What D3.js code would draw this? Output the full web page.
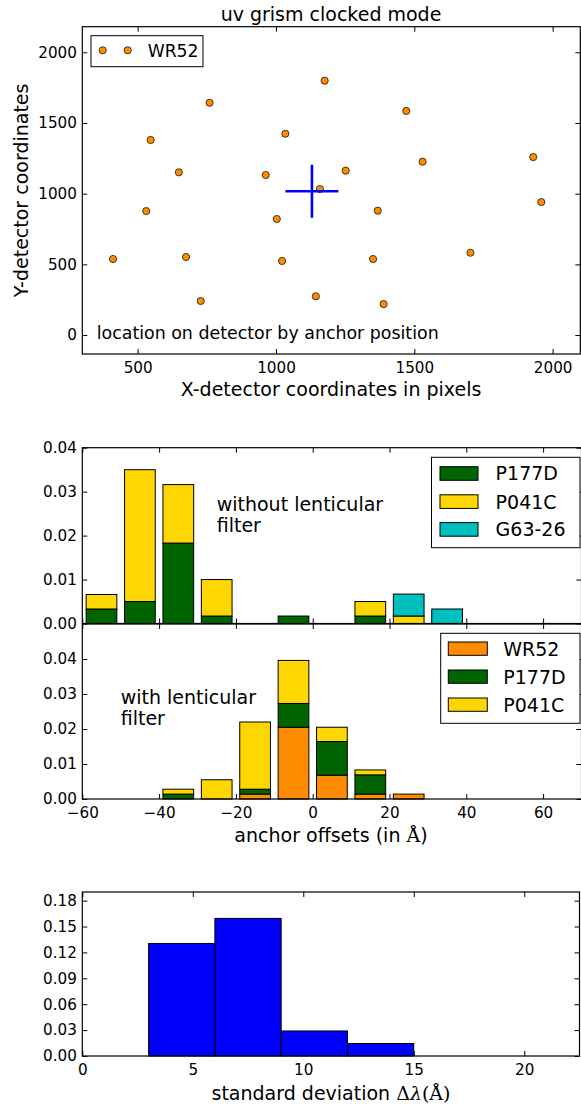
<!DOCTYPE html>
<html><head><meta charset="utf-8">
<script src="https://cdn.jsdelivr.net/npm/d3@7"></script>
<style>
body{margin:0;background:#fff}
text{font-family:"DejaVu Sans",sans-serif;fill:#000}
</style>
</head><body>
<svg id="c" width="581" height="1106"></svg>
<script>
// ---------------- data ----------------
const wr52X = [411, 531, 547, 649, 675, 728, 760, 963, 1003, 1022, 1034, 1144, 1159, 1176, 1252, 1351, 1368, 1389, 1471, 1530, 1703, 1930, 1959];
const wr52Y = [538, 877, 1380, 1151, 552, 241, 1643, 1132, 821, 524, 1424, 274, 1033, 1799, 1163, 538, 880, 219, 1585, 1226, 582, 1259, 941];
const anchorCenterX = [1130];
const anchorCenterY = [1017];

const offsetBinStarts = [-60, -50, -40, -30, -20, -10, 0, 10, 20, 30, 40, 50, 60];
const offsetBinWidth = 10;
// without lenticular filter (stacked densities)
const noLentP177D = [0.0033, 0.0050, 0.0183, 0.0017, 0, 0.0017, 0, 0.0017, 0, 0, 0, 0, 0];
const noLentP041C = [0.0033, 0.0300, 0.0133, 0.0083, 0, 0, 0, 0.0033, 0.0017, 0, 0, 0, 0];
const noLentG6326 = [0, 0, 0, 0, 0, 0, 0, 0, 0.0050, 0.0033, 0, 0, 0];
// with lenticular filter (stacked densities)
const lentWR52  = [0, 0, 0, 0, 0.0014, 0.0205, 0.0068, 0.0014, 0.0014, 0, 0, 0, 0];
const lentP177D = [0, 0, 0.0014, 0, 0.0014, 0.0068, 0.0096, 0.0055, 0, 0, 0, 0, 0];
const lentP041C = [0, 0, 0.0014, 0.0055, 0.0192, 0.0123, 0.0041, 0.0014, 0, 0, 0, 0, 0];

const sdBinStarts = [3, 6, 9, 12];
const sdBinWidth = 3;
const sdDensity = [0.1304, 0.1594, 0.0290, 0.0145];

const scatterXTicks = [500, 1000, 1500, 2000];
const scatterYTicks = [0, 500, 1000, 1500, 2000];
const offsetXTicks = [-60, -40, -20, 0, 20, 40, 60];
const offsetYTicksUpper = [0, 0.01, 0.02, 0.03, 0.04];
const offsetYTicksLower = [0, 0.01, 0.02, 0.03, 0.04];
const sdXTicks = [0, 5, 10, 15, 20];
const sdYTicks = [0, 0.03, 0.06, 0.09, 0.12, 0.15, 0.18];

// ---------------- style ----------------
const TFS = 15.2, LFS = 19, SFS = 17.2, TL = 5;
const C = {orange:"#ff8c00", green:"#006400", gold:"#ffd700", cyan:"#00bfbf", blue:"#0000ff"};
const svg = d3.select("#c");
const fmtMinus = s => s.replace("-", "\u2212");

function axes(x, y, o) {
  const g = svg.append("g");
  const [x0, x1] = x.range(), [y0, y1] = y.range();
  g.append("g").attr("transform", `translate(0,${y0})`)
    .call(d3.axisBottom(x).tickValues(o.xt).tickSize(-TL).tickPadding(7.8)
      .tickFormat(o.xlab ? (o.xf || (d => fmtMinus(String(d)))) : ""));
  g.append("g").attr("transform", `translate(0,${y1})`)
    .call(d3.axisTop(x).tickValues(o.xt).tickSize(-TL).tickFormat(""));
  g.append("g").attr("transform", `translate(${x0},0)`)
    .call(d3.axisLeft(y).tickValues(o.yt).tickSize(-TL).tickPadding(5.4).tickFormat(o.yf));
  g.append("g").attr("transform", `translate(${x1},0)`)
    .call(d3.axisRight(y).tickValues(o.yt).tickSize(-TL).tickFormat(""));
  g.selectAll(".domain").remove();
  g.selectAll(".tick line").attr("stroke", "#000").attr("stroke-width", 1);
  g.selectAll(".tick text").attr("font-size", TFS).attr("font-family", "DejaVu Sans").attr("fill", "#000");
  return g;
}
function spines(x, y) {
  const [x0, x1] = x.range(), [y0, y1] = y.range();
  svg.append("rect").attr("x", x0).attr("y", y1).attr("width", x1 - x0).attr("height", y0 - y1)
    .attr("fill", "none").attr("stroke", "#000").attr("stroke-width", 1.2);
}

// ---------------- panel 1: scatter ----------------
{
  const x = d3.scaleLinear().domain([300, 2100]).range([82.3, 580.3]);
  const y = d3.scaleLinear().domain([-134, 2181]).range([354, 26.7]);
  axes(x, y, {xt: scatterXTicks, yt: scatterYTicks, xlab: true, yf: d => String(d)});
  svg.append("g").selectAll("circle").data(wr52X).join("circle")
    .attr("cx", d => x(d)).attr("cy", (d, i) => y(wr52Y[i])).attr("r", 3.6)
    .attr("fill", C.orange).attr("stroke", "#000").attr("stroke-width", 0.7);
  const cg = svg.append("g");
  anchorCenterX.forEach((cx, i) => {
    const px = x(cx), py = y(anchorCenterY[i]), h = 26.5;
    cg.append("line").attr("x1", px - h).attr("x2", px + h).attr("y1", py).attr("y2", py)
      .attr("stroke", C.blue).attr("stroke-width", 2.6);
    cg.append("line").attr("x1", px).attr("x2", px).attr("y1", py - h).attr("y2", py + h)
      .attr("stroke", C.blue).attr("stroke-width", 2.6);
  });
  spines(x, y);
  svg.append("rect").attr("x", 91).attr("y", 35.7).attr("width", 112).attr("height", 31)
    .attr("fill", "#fff").attr("stroke", "#000").attr("stroke-width", 1);
  [102.7, 127.7].forEach(mx => svg.append("circle").attr("cx", mx).attr("cy", 50.3).attr("r", 3.6)
    .attr("fill", C.orange).attr("stroke", "#000").attr("stroke-width", 0.7));
  svg.append("text").attr("x", 147.7).attr("y", 50.3 + 6.2).attr("font-size", SFS).text("WR52");
  svg.append("text").attr("x", 96.7).attr("y", 339.3).attr("font-size", 17.4)
    .text("location on detector by anchor position");
  svg.append("text").attr("x", 331).attr("y", 20.6).attr("text-anchor", "middle").attr("font-size", LFS)
    .text("uv grism clocked mode");
  svg.append("text").attr("x", 331).attr("y", 396).attr("text-anchor", "middle").attr("font-size", LFS)
    .text("X-detector coordinates in pixels");
  svg.append("text").attr("transform", "translate(27.8,190.4) rotate(-90)").attr("text-anchor", "middle")
    .attr("font-size", LFS).text("Y-detector coordinates");
}

// ---------------- stacked histogram helper ----------------
function stacked(x, y, series, colors) {
  const g = svg.append("g");
  offsetBinStarts.forEach((b, i) => {
    let cum = 0;
    series.forEach((s, k) => {
      const lo = cum, hi = cum + s[i];
      cum = hi;
      const xl = x(b + offsetBinWidth * 0.1), xr = x(b + offsetBinWidth * 0.9);
      g.append("rect").attr("x", xl).attr("width", xr - xl)
        .attr("y", y(hi)).attr("height", Math.max(0, y(lo) - y(hi)))
        .attr("fill", colors[k]).attr("stroke", "#000").attr("stroke-width", 1);
    });
  });
}
function legendBox(bx, by, bw, bh, px, pw, ph, tops, tx, labels, colors) {
  svg.append("rect").attr("x", bx).attr("y", by).attr("width", bw).attr("height", bh)
    .attr("fill", "#fff").attr("stroke", "#000").attr("stroke-width", 1);
  labels.forEach((l, i) => {
    svg.append("rect").attr("x", px).attr("y", tops[i]).attr("width", pw).attr("height", ph)
      .attr("fill", colors[i]).attr("stroke", "#000").attr("stroke-width", 1);
    svg.append("text").attr("x", tx).attr("y", tops[i] + ph / 2 + 6.9).attr("font-size", LFS).text(l);
  });
}

// ---------------- panel 2: without lenticular ----------------
{
  const x = d3.scaleLinear().domain([-60, 70]).range([82.3, 581.5]);
  const y = d3.scaleLinear().domain([0, 0.04]).range([623.5, 447.7]);
  axes(x, y, {xt: offsetXTicks, yt: offsetYTicksUpper, xlab: false, yf: d3.format(".2f")});
  stacked(x, y, [noLentP177D, noLentP041C, noLentG6326], [C.green, C.gold, C.cyan]);
  spines(x, y);
  legendBox(431.5, 457.3, 148.5, 90.4, 440, 38, 13.6, [466.7, 494.8, 522.6], 495.6,
    ["P177D", "P041C", "G63-26"], [C.green, C.gold, C.cyan]);
  const t = svg.append("text").attr("font-size", LFS);
  t.append("tspan").attr("x", 216.7).attr("y", 511).text("without lenticular");
  t.append("tspan").attr("x", 216.7).attr("y", 531.5).text("filter");
}

// ---------------- panel 3: with lenticular ----------------
{
  const x = d3.scaleLinear().domain([-60, 70]).range([82.3, 581.5]);
  const y = d3.scaleLinear().domain([0, 0.05]).range([799, 624]);
  axes(x, y, {xt: offsetXTicks, yt: offsetYTicksLower, xlab: true, yf: d3.format(".2f")});
  stacked(x, y, [lentWR52, lentP177D, lentP041C], [C.orange, C.green, C.gold]);
  spines(x, y);
  legendBox(440.7, 633.3, 139.3, 90, 448.3, 39, 13.3, [642, 670, 698], 503.3,
    ["WR52", "P177D", "P041C"], [C.orange, C.green, C.gold]);
  const t = svg.append("text").attr("font-size", LFS);
  t.append("tspan").attr("x", 120.7).attr("y", 704.3).text("with lenticular");
  t.append("tspan").attr("x", 120.7).attr("y", 725).text("filter");
  const xl = svg.append("text").attr("x", 331).attr("y", 841.7).attr("text-anchor", "middle").attr("font-size", LFS);
  xl.append("tspan").text("anchor offsets (in ");
  xl.append("tspan").attr("font-family", "DejaVu Serif").text("\u00c5");
  xl.append("tspan").text(")");
}

// ---------------- panel 4: standard deviation ----------------
{
  const x = d3.scaleLinear().domain([0, 22.5]).range([82.3, 579.5]);
  const y = d3.scaleLinear().domain([0, 0.19]).range([1056, 892]);
  axes(x, y, {xt: sdXTicks, yt: sdYTicks, xlab: true, xf: d => String(d), yf: d3.format(".2f")});
  svg.append("g").selectAll("rect").data(sdDensity).join("rect")
    .attr("x", (d, i) => x(sdBinStarts[i])).attr("width", (d, i) => x(sdBinStarts[i] + sdBinWidth) - x(sdBinStarts[i]))
    .attr("y", d => y(d)).attr("height", d => y(0) - y(d))
    .attr("fill", C.blue).attr("stroke", "#000").attr("stroke-width", 1);
  spines(x, y);
  const xl = svg.append("text").attr("x", 331).attr("y", 1100).attr("text-anchor", "middle").attr("font-size", LFS);
  xl.append("tspan").text("standard deviation ");
  xl.append("tspan").attr("font-family", "DejaVu Serif").text("\u0394");
  xl.append("tspan").attr("font-family", "DejaVu Serif").attr("font-style", "italic").text("\u03bb");
  xl.append("tspan").attr("font-family", "DejaVu Serif").text("(\u00c5)");
}
</script>
</body></html>
